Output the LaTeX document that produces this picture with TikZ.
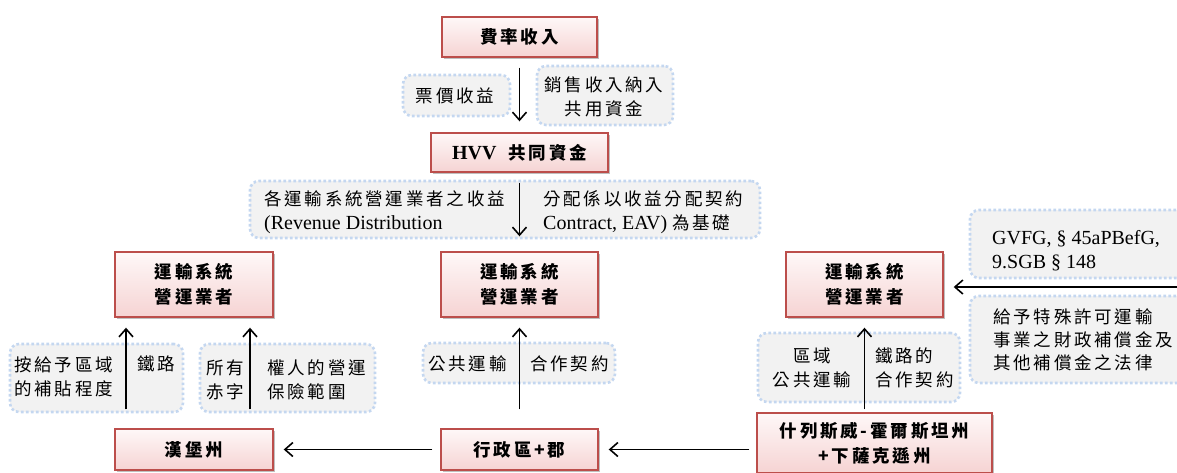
\documentclass[tikz,border=0pt]{standalone}
\usepackage{fontspec}
\setmainfont{Liberation Serif}
\newfontfamily\cjk{Noto Sans CJK TC}[LetterSpace=16]
\usetikzlibrary{arrows.meta,shadows,positioning}
\definecolor{boxfill}{RGB}{252,226,226}
\definecolor{boxline}{RGB}{188,78,75}
\definecolor{notefill}{RGB}{242,242,242}
\definecolor{noteline}{RGB}{196,215,240}
\newcommand{\zh}[1]{{\cjk\fontsize{17.5}{24}\selectfont #1}}
\tikzset{
  unit/.style={draw=boxline, line width=1.4pt, top color=boxfill!25!white,
    middle color=boxfill, bottom color=boxfill!90!boxline,
    drop shadow={shadow xshift=1.5pt, shadow yshift=-1.5pt, fill=black!50, opacity=.5},
    font=\cjk\bfseries\fontsize{17.5}{25}\selectfont, align=center, inner sep=0pt},
  note/.style={draw=noteline, fill=notefill, rounded corners=9pt, line width=2.6pt,
    dash pattern=on 2.6pt off 2.4pt, inner sep=0pt},
  txt/.style={font=\fontsize{20}{24}\selectfont, align=left, inner sep=0pt},
  cjktxt/.style={font=\cjk\fontsize{17.5}{24}\selectfont, align=left, inner sep=0pt},
  flow/.style={-{Straight Barb[length=8pt,width=14pt]}, line width=1.6pt},
}
\begin{document}
\begin{tikzpicture}[x=1pt,y=-1pt]
  \useasboundingbox (0,0) rectangle (1177,472);
  % notes behind the arrows
  \node[note, minimum width=107pt, minimum height=41pt] (tkt) at (456.5,95.5) {};
  \node[note, minimum width=136pt, minimum height=59pt] (sale) at (605,95.5) {};
  \node[note, minimum width=510pt, minimum height=57pt] (rev) at (505,209.5) {};
  \node[note, minimum width=173pt, minimum height=68pt] (subl) at (96.5,378) {};
  \node[note, minimum width=175pt, minimum height=68pt] (defl) at (287.5,378) {};
  \node[note, minimum width=192pt, minimum height=40pt] (ctrm) at (519,363) {};
  \node[note, minimum width=202pt, minimum height=69pt] (ctrr) at (859,367.5) {};
  \node[note, minimum width=220pt, minimum height=68pt] (gvfg) at (1080,244) {};
  \node[note, minimum width=220pt, minimum height=87pt] (law) at (1080,339.5) {};
  % texts
  \node[cjktxt] (tkt-t) at (455,96) {票價收益};
  \node[cjktxt, align=center] (sale-t) at (604,97) {銷售收入納入\\共用資金};
  \node[txt, anchor=west] (rev-l) at (264,212) {\zh{各運輸系統營運業者之收益}\\(Revenue Distribution};
  \node[txt, anchor=west] (rev-r) at (543,212) {\zh{分配係以收益分配契約}\\Contract, EAV) \zh{為基礎}};
  \node[cjktxt, anchor=west] (subl-l) at (14,377) {按給予區域\\的補貼程度};
  \node[cjktxt, anchor=west] (subl-r) at (137,364) {鐵路};
  \node[cjktxt, anchor=west] (defl-l) at (206,380) {所有\\赤字};
  \node[cjktxt, anchor=west] (defl-r) at (267,380) {權人的營運\\保險範圍};
  \node[cjktxt, anchor=west] (ctrm-l) at (428,364) {公共運輸};
  \node[cjktxt, anchor=west] (ctrm-r) at (530,364) {合作契約};
  \node[cjktxt, align=center] (ctrr-l) at (812,368) {區域\\公共運輸};
  \node[cjktxt, anchor=west] (ctrr-r) at (875,368) {鐵路的\\合作契約};
  \node[txt, anchor=west] (gvfg-t) at (992,251) {GVFG, § 45aPBefG,\\9.SGB § 148};
  \node[cjktxt, anchor=west, font=\cjk\fontsize{17.5}{23}\selectfont] (law-t) at (993,340)
    {給予特殊許可運輸\\事業之財政補償金及\\其他補償金之法律};
  % boxes
  \node[unit, minimum width=155pt, minimum height=40pt] (fee) at (519.5,37) {費率收入};
  \node[unit, minimum width=177pt, minimum height=39pt] (hvv) at (519.5,152.5)
    {{\rmfamily\bfseries\fontsize{20}{24}\selectfont HVV}\hspace{12pt}共同資金};
  \node[unit, minimum width=158pt, minimum height=65pt] (opl) at (194,284.5) {運輸系統\\營運業者};
  \node[unit, minimum width=157pt, minimum height=65pt] (opm) at (519.5,284.5) {運輸系統\\營運業者};
  \node[unit, minimum width=157pt, minimum height=65pt] (opr) at (864.5,284.5) {運輸系統\\營運業者};
  \node[unit, minimum width=158pt, minimum height=41pt] (hh) at (194,449.5) {漢堡州};
  \node[unit, minimum width=157pt, minimum height=41pt] (ad) at (519.5,449.5) {行政區+郡};
  \node[unit, minimum width=235pt, minimum height=60pt] (sh) at (874.5,443) {什列斯威-霍爾斯坦州\\+下薩克遜州};
  % arrows
  \coordinate (a1) at (126,0);
  \coordinate (a2) at (250,0);
  \coordinate (lawin) at (1180,287);
  \draw[flow, shorten <=10pt, shorten >=11pt] (fee) -- (hvv);
  \draw[flow, shorten <=10pt, shorten >=15pt] (hvv) -- (opm);
  \draw[flow, shorten <=19pt, shorten >=10pt] (ad) -- (opm);
  \draw[flow, shorten <=19pt, shorten >=10pt] (hh.north -| a1) -- (opl.south -| a1);
  \draw[flow, shorten <=19pt, shorten >=10pt] (hh.north -| a2) -- (opl.south -| a2);
  \draw[flow, shorten <=3pt, shorten >=10pt] (sh.north -| opr.south) -- (opr.south);
  \draw[flow, shorten <=8pt, shorten >=10pt] (ad) -- (hh);
  \draw[flow, shorten <=7pt, shorten >=10pt] (sh.west |- ad) -- (ad.east);
  \draw[flow, shorten >=10pt] (lawin) -- (opr.east |- lawin);
\end{tikzpicture}
\end{document}
